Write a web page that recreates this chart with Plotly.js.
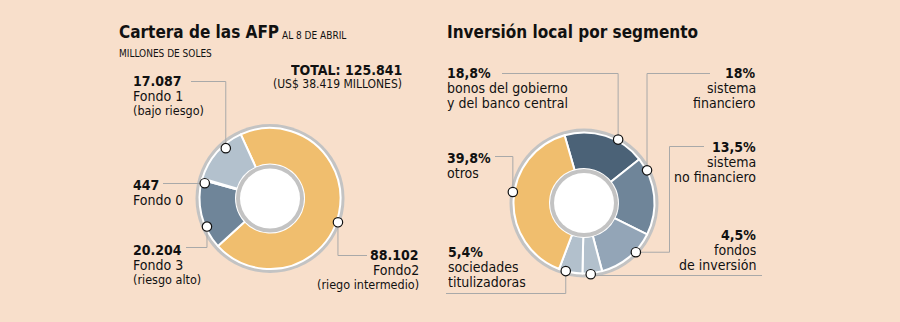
<!DOCTYPE html>
<html>
<head>
<meta charset="utf-8">
<script src="https://cdn.plot.ly/plotly-3.0.1.min.js"></script>
<style>
html,body{margin:0;padding:0;background:#f8dfcb;}
#chart{width:900px;height:322px;}
</style>
</head>
<body>
<div id="chart"></div>
<script>
// ---------- DATA ----------
const leftTitle = 'Cartera de las AFP';
const leftDate = 'AL 8 DE ABRIL';
const leftUnit = 'MILLONES DE SOLES';
const totalText = 'TOTAL: 125.841';
const totalUsdText = '(US$ 38.419 MILLONES)';
const leftLabels = ['Fondo2', 'Fondo 3', 'Fondo 0', 'Fondo 1'];
const leftValues = [88102, 20204, 447, 17087];
const leftNotes = [['Fondo2', '(riego intermedio)'], ['Fondo 3', '(riesgo alto)'], ['Fondo 0'], ['Fondo 1', '(bajo riesgo)']];

const rightTitle = 'Inversión local por segmento';
const rightLabels = ['bonos del gobierno y del banco central', 'sistema financiero', 'sistema no financiero', 'fondos de inversión', 'sociedades titulizadoras', 'otros'];
const rightValues = [18.8, 18, 13.5, 4.5, 5.4, 39.8];
const rightNotes = [['bonos del gobierno', 'y del banco central'], ['sistema', 'financiero'], ['sistema', 'no financiero'], ['fondos', 'de inversión'], ['sociedades', 'titulizadoras'], ['otros']];

// ---------- STYLE / LAYOUT CONFIG ----------
const W = 900, H = 322;
const FONT = '"DejaVu Sans Condensed", "DejaVu Sans", sans-serif';
const TXT = '#111111';
const BG = '#f8dfcb';
const RING = '#c3c3c3';
const LEAD = '#a9a9a9';
const leftColors = ['#f0be6e', '#6f8599', '#c9d3dc', '#b3c1cd'];
const rightColors = ['#4b6277', '#6f8599', '#93a5b7', '#b2c0cc', '#b2c0cc', '#f0be6e'];

const leftGeo = {cx: 270, cy: 198.5, rOuter: 74.5, rSeg: 70.5, rRing: 34, rHole: 30, rotation: -24.5};
const rightGeo = {cx: 584, cy: 203, rOuter: 74.5, rSeg: 70.5, rRing: 34, rHole: 30, rotation: -16};

const leftCallouts = [
  {align: 'right', x: 418.5, base: 260, dotAngle: 109.3, dotR: 72, leader: [['v', 255.5], ['h', 367]]},
  {align: 'left', x: 133, base: 255, dotAngle: 246, dotR: 69, leader: [['v', 247.5], ['h', 186]]},
  {align: 'left', x: 133, base: 190, dotAngle: 283.2, dotR: 67, leader: [['v', 183.5], ['h', 163]]},
  {align: 'left', x: 133, base: 86, dotAngle: 318.7, dotR: 67, leader: [['v', 81.5], ['h', 191]]}
];
const rightCallouts = [
  {align: 'left', x: 446.5, base: 78.3, dotAngle: 28.3, dotR: 72, leader: [['v', 73.5], ['h', 502]]},
  {align: 'right', x: 755.5, base: 78.3, dotAngle: 62.6, dotR: 71, leader: [['v', 73.5], ['h', 710]]},
  {align: 'right', x: 755.5, base: 151.7, dotAngle: 133.5, dotR: 71.5, leader: [['h', 669.5], ['v', 146.5], ['h', 704]]},
  {align: 'right', x: 755.5, base: 240, dotAngle: 174.6, dotR: 71.5, leader: [['v', 275.5], ['h', 762]]},
  {align: 'left', x: 448, base: 257.3, dotAngle: 195, dotR: 70.5, leader: [['v', 293.5], ['h', 446]]},
  {align: 'left', x: 446.5, base: 163.3, dotAngle: 278.8, dotR: 72, leader: [['v', 156.5], ['h', 495]]}
];

const NUM_SIZE = 14, NOTE_SIZE = 14, PAREN_SIZE = 12.5;
const NOTE_STEP = 15, PAREN_STEP = 14;

// ---------- BUILD ----------
function fmtThousands(v) { return String(v).replace(/\B(?=(\d{3})+(?!\d))/g, '.'); }
function fmtPct(v) { return String(v).replace('.', ',') + '%'; }

function dom(cx, cy, r) {
  return {x: [(cx - r) / W, (cx + r) / W], y: [1 - (cy + r) / H, 1 - (cy - r) / H]};
}
function disk(cx, cy, r, color) {
  return {type: 'pie', values: [1], labels: ['d' + cx + '_' + r], marker: {colors: [color], line: {width: 0}},
    textinfo: 'none', hoverinfo: 'skip', sort: false, showlegend: false, domain: dom(cx, cy, r)};
}
function donut(g, labels, values, colors) {
  return [
    disk(g.cx, g.cy, g.rOuter, RING),
    {type: 'pie', labels: labels, values: values, sort: false, direction: 'clockwise', rotation: g.rotation,
      hole: g.rRing / g.rSeg, marker: {colors: colors, line: {color: '#ffffff', width: 2}},
      textinfo: 'none', hoverinfo: 'label+value', showlegend: false, domain: dom(g.cx, g.cy, g.rSeg)},
    disk(g.cx, g.cy, g.rRing, RING),
    disk(g.cx, g.cy, g.rHole, '#ffffff')
  ];
}

const data = [
  {type: 'scatter', x: [], y: [], xaxis: 'x', yaxis: 'y', hoverinfo: 'skip', showlegend: false},
  ...donut(leftGeo, leftLabels, leftValues, leftColors),
  ...donut(rightGeo, rightLabels, rightValues, rightColors)
];

const annotations = [];
const shapes = [];
const dots = [];

// baseline-positioned text; optional box height keeps stacked lines from overlapping
function addText(text, x, baseline, size, bold, anchor, boxH) {
  const full = 1.164 * size;
  const h = boxH ? Math.min(boxH, full) : full;
  const ann = {xref: 'x', yref: 'y', x: x, y: baseline + 0.236 * size - h / 2, text: text, showarrow: false,
    xanchor: anchor, yanchor: 'middle', valign: 'bottom', borderpad: 0, borderwidth: 0,
    font: {family: FONT, size: size, color: TXT, weight: bold ? 'bold' : 'normal'}};
  if (boxH) ann.height = h;
  annotations.push(ann);
}

function addCallouts(g, callouts, valueTexts, notes) {
  callouts.forEach(function (c, i) {
    const a = c.dotAngle * Math.PI / 180;
    const dx = g.cx + c.dotR * Math.sin(a);
    const dy = g.cy - c.dotR * Math.cos(a);
    let px = dx, py = dy;
    let path = 'M' + px + ',' + py;
    c.leader.forEach(function (m) {
      if (m[0] === 'v') py = m[1]; else px = m[1];
      path += ' L' + px + ',' + py;
    });
    shapes.push({type: 'path', xref: 'x', yref: 'y', path: path, line: {color: LEAD, width: 1}, layer: 'above'});
    dots.push({type: 'circle', xref: 'x', yref: 'y', x0: dx - 4.7, x1: dx + 4.7, y0: dy - 4.7, y1: dy + 4.7,
      fillcolor: '#ffffff', line: {color: '#111111', width: 1.2}, layer: 'above'});
    addText(valueTexts[i], c.x, c.base, NUM_SIZE, true, c.align, NOTE_STEP - 0.6);
    let b = c.base;
    notes[i].forEach(function (t) {
      const paren = t.charAt(0) === '(';
      b += paren ? PAREN_STEP : NOTE_STEP;
      addText(t, c.x, b, paren ? PAREN_SIZE : NOTE_SIZE, false, c.align, (paren ? PAREN_STEP : NOTE_STEP) - 0.6);
    });
  });
}

addCallouts(leftGeo, leftCallouts, leftValues.map(fmtThousands), leftNotes);
addCallouts(rightGeo, rightCallouts, rightValues.map(fmtPct), rightNotes);

// headings
addText(leftTitle, 119, 38.3, 17, true, 'left');
addText(leftDate, 281.5, 38.6, 10, false, 'left');
addText(leftUnit, 118.5, 56.7, 10, false, 'left');
addText(totalText, 402, 75, 14, true, 'right', 13);
addText(totalUsdText, 402, 88.3, 12, false, 'right', 13);
addText(rightTitle, 446.5, 38.3, 17, true, 'left');

const layout = {
  width: W, height: H,
  margin: {l: 0, r: 0, t: 0, b: 0, pad: 0},
  paper_bgcolor: BG, plot_bgcolor: 'rgba(0,0,0,0)',
  showlegend: false,
  xaxis: {range: [0, W], autorange: false, visible: false, fixedrange: true, domain: [0, 1]},
  yaxis: {range: [H, 0], autorange: false, visible: false, fixedrange: true, domain: [0, 1]},
  shapes: shapes.concat(dots),
  annotations: annotations
};

Plotly.newPlot('chart', data, layout, {staticPlot: true, displayModeBar: false});
</script>
</body>
</html>
